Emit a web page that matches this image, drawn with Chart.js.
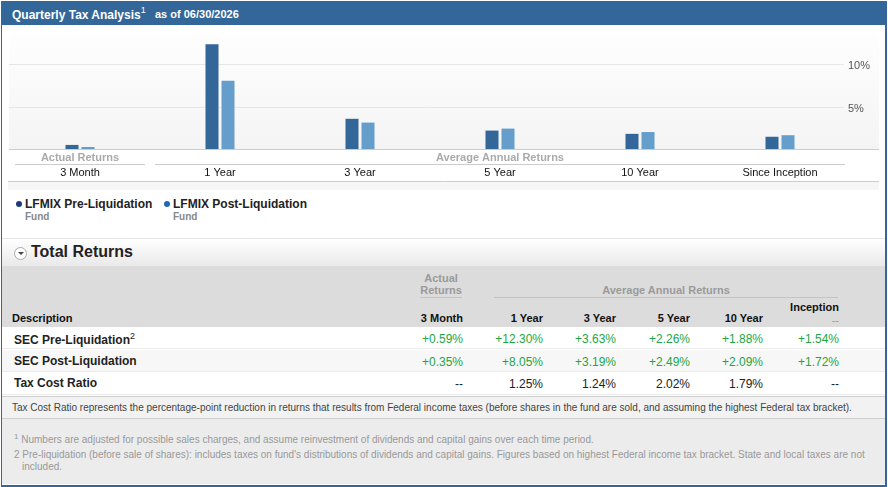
<!DOCTYPE html>
<html>
<head>
<meta charset="utf-8">
<script src="https://cdn.jsdelivr.net/npm/chart.js@4.4.1/dist/chart.umd.min.js"></script>
<style>
  body { margin: 0; width: 888px; height: 487px; position: relative; font-family: "Liberation Sans", Arial, sans-serif; background: #fff; overflow: hidden; }
  .abs { position: absolute; }
  #frame { left: 1px; top: 1px; width: 883px; height: 483px; border: 1px solid #336699; border-width: 1px 2px 2px 1px; background: #fff; }
  #topbar { left: 1px; top: 1px; width: 885px; height: 24px; background: #336699; color: #fff; }
  #topbar .t { position: absolute; left: 11px; top: 5px; font-weight: bold; font-size: 12px; }
  #topbar sup { font-size: 9px; font-weight: normal; position: relative; top: -1px; }
  #topbar .d { position: absolute; left: 154px; top: 7px; font-weight: bold; font-size: 11px; }
  #chart { left: 0; top: 26px; }
  .leg { font-weight: bold; font-size: 12px; color: #222; }
  .leg .dot { position: absolute; left: -9px; top: 4px; width: 6px; height: 6px; border-radius: 50%; }
  .leg .sub { position: absolute; left: 0; top: 14px; font-size: 10px; color: #888; }
  #sechead { left: 2px; top: 238px; width: 883px; height: 27px; border-top: 1px solid #e6e6e6; border-bottom: 1px solid #cfcfcf; background: linear-gradient(#ffffff, #e9e9e9); }
  #sechead .ic { position: absolute; left: 12px; top: 8px; width: 11px; height: 11px; border-radius: 50%; border: 1px solid #aaa; background: #fff; }
  #sechead .ic:after { content: ""; position: absolute; left: 3px; top: 4px; border-left: 3px solid transparent; border-right: 3px solid transparent; border-top: 3px solid #444; }
  #sechead .tt { position: absolute; left: 29px; top: 4px; font-size: 16px; font-weight: bold; color: #222; }
  #thead { left: 2px; top: 266px; width: 883px; height: 61px; background: #dcdcdc; }
  .grp { font-size: 11px; font-weight: bold; color: #9a9a9a; text-align: center; line-height: 12px; }
  .gline { height: 1px; background: #c4c4c4; }
  .ch { font-size: 11px; font-weight: bold; color: #111; text-align: right; }
  .row { left: 2px; width: 883px; border-bottom: 1px solid #ececec; }
  .cell { font-size: 12px; text-align: right; }
  .desc { left: 12px; font-size: 12px; font-weight: bold; color: #222; }
  #note { left: 2px; top: 396px; width: 883px; height: 21px; background: #f2f2f2; border-top: 1px solid #cfcfcf; border-bottom: 1px solid #cfcfcf; font-size: 10px; color: #444; white-space: nowrap; }
  #foot { left: 2px; top: 419px; width: 883px; height: 65px; background: #ececec; font-size: 10px; color: #999; }
</style>
</head>
<body>
<div id="frame" class="abs"></div>
<div id="topbar" class="abs"><span class="t">Quarterly Tax Analysis<sup>1</sup></span><span class="d">as of 06/30/2026</span></div>
<canvas id="chart" class="abs" width="888" height="164"></canvas>
<div id="legend"></div>
<div id="sechead" class="abs"><div class="ic"></div><div class="tt">Total Returns</div></div>
<div id="thead" class="abs"></div>
<div id="tbody"></div>
<div id="note" class="abs"><span class="abs" style="left:10px;top:5px">Tax Cost Ratio represents the percentage-point reduction in returns that results from Federal income taxes (before shares in the fund are sold, and assuming the highest Federal tax bracket).</span></div>
<div id="foot" class="abs">
  <span class="abs" style="left:12px;top:13px;white-space:nowrap"><sup style="font-size:8px">1</sup> Numbers are adjusted for possible sales charges, and assume reinvestment of dividends and capital gains over each time period.</span>
  <span class="abs" style="left:12px;top:30px;width:866px;line-height:12px;white-space:nowrap">2 Pre-liquidation (before sale of shares): includes taxes on fund's distributions of dividends and capital gains. Figures based on highest Federal income tax bracket. State and local taxes are not<br><span style="padding-left:8px">included.</span></span>
</div>

<script>
const categories = ['3 Month', '1 Year', '3 Year', '5 Year', '10 Year', 'Since Inception'];
const seriesNames = ['LFMIX Pre-Liquidation', 'LFMIX Post-Liquidation'];
const preLiquidation = [0.59, 12.30, 3.63, 2.26, 1.88, 1.54];
const postLiquidation = [0.35, 8.05, 3.19, 2.49, 2.09, 1.72];
const taxCostRatio = [null, 1.25, 1.24, 2.02, 1.79, null];
const yTicks = [5, 10];
const groupNames = ['Actual Returns', 'Average Annual Returns'];
const groupOf = [0, 1, 1, 1, 1, 1];
const tableCols = ['3 Month', '1 Year', '3 Year', '5 Year', '10 Year', 'Inception'];
const rowNames = ['SEC Pre-Liquidation', 'SEC Post-Liquidation', 'Tax Cost Ratio'];

const barColors = ['#336699', '#669ecb'];
const dotColors = ['#1b3c78', '#2467b6'];

// background, grid lines, axis labels and group headers
const decor = {
    id: 'decor',
    beforeDatasetsDraw(chart) {
        const ctx = chart.ctx;
        const a = chart.chartArea;
        const y = chart.scales.y;
        ctx.save();
        const g = ctx.createLinearGradient(0, a.top, 0, a.bottom);
        g.addColorStop(0, '#fefefe');
        g.addColorStop(1, '#f4f4f4');
        ctx.fillStyle = g;
        ctx.fillRect(a.left - 1, a.top - 1, a.right - a.left + 30, a.bottom - a.top + 1);
        ctx.strokeStyle = '#e6e6e6';
        ctx.lineWidth = 1;
        ctx.font = '11px "Liberation Sans", Arial';
        ctx.fillStyle = '#555';
        ctx.textBaseline = 'middle';
        yTicks.forEach(t => {
            const py = Math.round(y.getPixelForValue(t)) + 0.5;
            ctx.beginPath();
            ctx.moveTo(a.left - 1, py);
            ctx.lineTo(a.right - 6, py);
            ctx.stroke();
            ctx.fillText(t + '%', a.right - 2, py + 1);
        });
        ctx.restore();
    },
    afterDraw(chart) {
        const ctx = chart.ctx;
        const a = chart.chartArea;
        const x = chart.scales.x;
        const half = (a.right - a.left) / categories.length / 2;
        ctx.save();
        ctx.strokeStyle = '#cccccc';
        ctx.lineWidth = 1;
        ctx.beginPath();
        ctx.moveTo(a.left - 1, a.bottom - 0.5);
        ctx.lineTo(a.right + 29, a.bottom - 0.5);
        ctx.stroke();
        ctx.font = 'bold 11px "Liberation Sans", Arial';
        ctx.fillStyle = '#aaaaaa';
        ctx.textAlign = 'center';
        ctx.textBaseline = 'middle';
        groupNames.forEach((name, gi) => {
            const idx = groupOf.map((g, i) => g === gi ? i : -1).filter(i => i >= 0);
            const x0 = x.getPixelForValue(idx[0]) - half + 5;
            const x1 = x.getPixelForValue(idx[idx.length - 1]) + half - 5;
            ctx.fillText(name, (x0 + x1) / 2, a.bottom + 8);
            ctx.beginPath();
            ctx.moveTo(x0, a.bottom + 14.5);
            ctx.lineTo(x1, a.bottom + 14.5);
            ctx.stroke();
        });
        ctx.beginPath();
        ctx.moveTo(a.left - 2, a.bottom + 31.5);
        ctx.lineTo(a.right + 29, a.bottom + 31.5);
        ctx.stroke();
        ctx.fillStyle = '#f6f6f6';
        ctx.fillRect(a.left - 2, a.bottom + 32, a.right - a.left + 31, 8);
        ctx.restore();
    }
};

new Chart(document.getElementById('chart'), {
    type: 'bar',
    data: {
        labels: categories,
        datasets: [
            { label: seriesNames[0], data: preLiquidation, backgroundColor: barColors[0] },
            { label: seriesNames[1], data: postLiquidation, backgroundColor: barColors[1] }
        ]
    },
    options: {
        responsive: false,
        animation: false,
        devicePixelRatio: 1,
        categoryPercentage: 32 / 140,
        barPercentage: 13 / 16,
        layout: { padding: { left: 10, right: 38, top: 8, bottom: 0 } },
        plugins: { legend: { display: false }, tooltip: { enabled: false } },
        scales: {
            x: {
                grid: { display: false, drawTicks: false },
                border: { display: false },
                ticks: { color: '#111', font: { size: 11, family: '"Liberation Sans", Arial' }, padding: 16, maxRotation: 0, autoSkip: false },
                afterFit(s) { s.height = 40; }
            },
            y: { display: false, min: 0, max: 13.5 }
        }
    },
    plugins: [decor]
});

// legend
const legend = document.getElementById('legend');
seriesNames.forEach((name, i) => {
    const d = document.createElement('div');
    d.className = 'abs leg';
    d.style.left = (i === 0 ? 25 : 173) + 'px';
    d.style.top = '197px';
    d.innerHTML = `<span class="dot" style="background:${dotColors[i]}"></span>${name}<span class="sub">Fund</span>`;
    legend.appendChild(d);
});

// table
const colRight = [461, 541, 614, 688, 761, 837];
const thead = document.getElementById('thead');
let h = `<div class="abs grp" style="left:408px;top:6px;width:62px">${groupNames[0].replace(' ', '<br>')}</div>
<div class="abs gline" style="left:418px;top:31px;width:42px"></div>
<div class="abs grp" style="left:492px;top:18px;width:344px">${groupNames[1]}</div>
<div class="abs gline" style="left:492px;top:31px;width:344px"></div>
<div class="abs ch" style="left:10px;top:46px;text-align:left">Description</div>`;
tableCols.forEach((c, i) => {
    const last = i === tableCols.length - 1;
    h += `<div class="abs ch" style="left:${colRight[i] - 100}px;width:100px;top:${last ? 35 : 46}px">${c}</div>`;
    if (last) h += `<div class="abs ch" style="left:${colRight[i] - 100}px;width:100px;top:48px;color:#999;font-weight:normal">--</div>`;
});
thead.innerHTML = h;

const fmt = (v, signed) => v === null ? '--' : (signed ? '+' : '') + v.toFixed(2) + '%';
const rows = [preLiquidation, postLiquidation, taxCostRatio];
const tbody = document.getElementById('tbody');
const rowTop = [327, 350, 372];
rows.forEach((vals, r) => {
    const signed = r < 2;
    const div = document.createElement('div');
    div.className = 'abs row';
    div.style.top = rowTop[r] + 'px';
    div.style.height = (r === 2 ? 22 : 21) + 'px';
    div.style.background = r === 1 ? '#f7f7f7' : '#fff';
    let s = `<div class="abs desc" style="top:4px">${rowNames[r]}${r === 0 ? '<sup style="font-size:9px;font-weight:normal">2</sup>' : ''}</div>`;
    vals.forEach((v, i) => {
        const color = signed && v !== null ? '#1ea545' : '#222';
        s += `<div class="abs cell" style="left:${colRight[i] - 100}px;width:100px;top:5px;color:${color}">${fmt(v, signed)}</div>`;
    });
    div.innerHTML = s;
    tbody.appendChild(div);
});
</script>
</body>
</html>
